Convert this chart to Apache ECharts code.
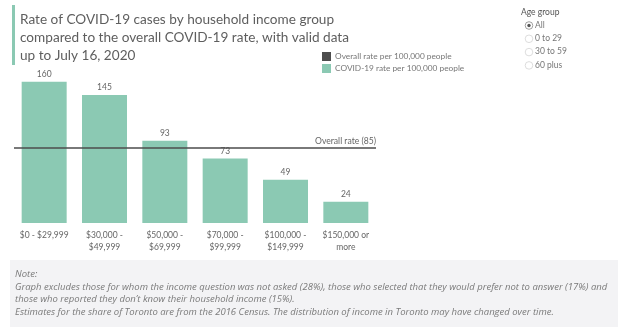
<!DOCTYPE html>
<html>
<head>
<meta charset="utf-8">
<script src="https://cdn.jsdelivr.net/npm/echarts@6/dist/echarts.min.js"></script>
<style>
  html, body { margin: 0; padding: 0; background: #fff; }
  #chart { width: 621px; height: 331px; }
</style>
</head>
<body>
<div id="chart"></div>
<script>
// Household income groups and COVID-19 case rates per 100,000 people
const incomeGroups = ['$0 - $29,999', '$30,000 -\n$49,999', '$50,000 -\n$69,999', '$70,000 -\n$99,999', '$100,000 -\n$149,999', '$150,000 or\nmore'];
const caseRates = [160, 145, 93, 73, 49, 24];
const overallRate = 85;
const ageGroups = ['All', '0 to 29', '30 to 59', '60 plus'];
const titleLines = ['Rate of COVID-19 cases by household income group', 'compared to the overall COVID-19 rate, with valid data', 'up to July 16, 2020'];
const noteLines = [
  'Note:',
  'Graph excludes those for whom the income question was not asked (28%), those who selected that they would prefer not to answer (17%) and',
  'those who reported they don\u2019t know their household income (15%).',
  'Estimates for the share of Toronto are from the 2016 Census. The distribution of income in Toronto may have changed over time.'
];

const GREEN = '#8bc9b3';
const DARK = '#4d4d4d';
const TEXT = '#666';
const FONT = 'Lato, "Open Sans", sans-serif';

const chart = echarts.init(document.getElementById('chart'));

const graphics = [
  // accent bar beside the title
  { type: 'rect', shape: { x: 12, y: 5, width: 3, height: 60 }, style: { fill: GREEN } },
  {
    type: 'text', left: 20, top: 11,
    style: { text: titleLines.join('\n'), font: '13.6px ' + FONT, fill: '#5e5e5e', lineHeight: 18 }
  },
  // note panel
  { type: 'rect', shape: { x: 10, y: 260, width: 608, height: 67 }, style: { fill: '#f3f3f5' }, z: -1 },
  // age group filter
  { type: 'text', left: 521, top: 8, style: { text: 'Age group', font: '8.5px ' + FONT, fill: '#555' } }
];

noteLines.forEach((line, i) => {
  graphics.push({
    type: 'text', left: 15, top: [269, 282, 294, 307][i],
    style: { text: line, font: 'italic 9.5px "Open Sans", sans-serif', fill: '#7a7a7a' }
  });
});

ageGroups.forEach((g, i) => {
  const cy = 25.5 + i * 13.3;
  graphics.push({ type: 'circle', shape: { cx: 529, cy: cy, r: 3.8 }, style: { fill: '#fff', stroke: i === 0 ? '#888' : '#d4d4d4', lineWidth: 0.8 } });
  if (i === 0) graphics.push({ type: 'circle', shape: { cx: 529, cy: cy, r: 1.7 }, style: { fill: '#555' } });
  graphics.push({ type: 'text', left: 535, top: cy - 5, style: { text: g, font: '8.5px ' + FONT, fill: '#777' } });
});

chart.setOption({
  animation: false,
  textStyle: { fontFamily: FONT },
  grid: { left: 14, width: 362, top: 64, height: 159, containLabel: false },
  legend: {
    orient: 'vertical', left: 322, top: 52, padding: 0, itemWidth: 9, itemHeight: 9, itemGap: 3,
    icon: 'rect',
    textStyle: { fontSize: 8.3, color: '#777', padding: [0, 0, 0, -1] },
    data: ['Overall rate per 100,000 people', 'COVID-19 rate per 100,000 people']
  },
  xAxis: {
    type: 'category', data: incomeGroups,
    axisLine: { show: false }, axisTick: { show: false },
    axisLabel: { color: TEXT, fontSize: 8.5, lineHeight: 12, margin: 6, interval: 0 }
  },
  yAxis: { type: 'value', min: 0, max: 180, show: false, splitLine: { show: false } },
  series: [
    {
      name: 'Overall rate per 100,000 people', type: 'line', data: [],
      itemStyle: { color: DARK }, lineStyle: { color: DARK },
      markLine: {
        silent: true, symbol: 'none',
        lineStyle: { color: DARK, width: 1.5, type: 'solid' },
        label: { position: 'insideEndTop', formatter: 'Overall rate (' + overallRate + ')', color: TEXT, fontSize: 8.6, distance: [0, 2] },
        data: [{ yAxis: overallRate }]
      },
      z: 3
    },
    {
      name: 'COVID-19 rate per 100,000 people', type: 'bar', data: caseRates,
      barWidth: 45,
      itemStyle: { color: GREEN },
      label: { show: true, position: 'top', distance: 3, color: TEXT, fontSize: 8.5 }
    }
  ],
  graphic: graphics
});
</script>
</body>
</html>
